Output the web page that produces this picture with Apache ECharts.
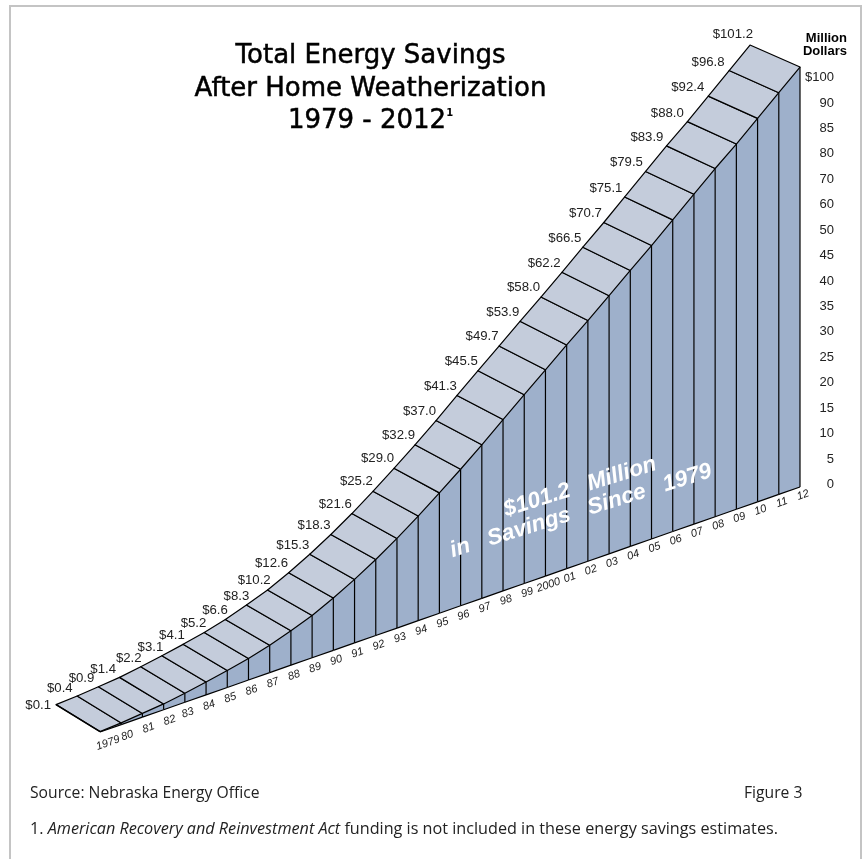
<!DOCTYPE html>
<html><head><meta charset="utf-8">
<style>html,body{margin:0;padding:0;background:#fff;overflow:hidden}#c{width:864px;height:859px}</style>
<script src="https://cdn.jsdelivr.net/npm/echarts@6/dist/echarts.min.js"></script>
</head><body><div id="c"></div>
<script>
const years = ['1979','80','81','82','83','84','85','86','87','88','89','90','91','92','93','94','95','96','97','98','99','2000','01','02','03','04','05','06','07','08','09','10','11','12'];
const savings = [0.1,0.4,0.9,1.4,2.2,3.1,4.1,5.2,6.6,8.3,10.2,12.6,15.3,18.3,21.6,25.2,29.0,32.9,37.0,41.3,45.5,49.7,53.9,58.0,62.2,66.5,70.7,75.1,79.5,83.9,88.0,92.4,96.8,101.2];
const scaleLabels = ['0','5','10','15','20','25','30','35','40','45','50','60','70','80','85','90','$100'];

const SHEAR = 0.35, ROT = Math.atan(SHEAR);
const chart = echarts.init(document.getElementById('c'), null, {renderer:'canvas'});
const last = savings.length - 1;

function project(api, i, v){
  const p = api.coord([i, v]), o = api.coord([0, 0]);
  return [p[0], p[1] - SHEAR * (p[0] - o[0])];
}
function back(api, i, v){
  const p = project(api, i, v), t = i / last;
  return [p[0] - (44 + 6 * t * t), p[1] - (27 - 5 * t)];
}
const renderStep = (params, api) => {
  const i = params.dataIndex, v = api.value(1), kids = [], t = i / last;
  const frontTop = project(api, i, v), frontBase = project(api, i, 0), backTop = back(api, i, v);
  if (i < last) {
    const nv = savings[i + 1];
    const nTop = project(api, i + 1, nv), nBase = project(api, i + 1, 0), nBack = back(api, i + 1, nv);
    kids.push({type:'polygon', shape:{points:[frontBase, frontTop, nTop, nBase]}, style:{fill:'#9eb0cb', stroke:null}});
    kids.push({type:'polygon', shape:{points:[backTop, nBack, nTop, frontTop]}, style:{fill:'#c4ccdb', stroke:'#000', lineWidth:1.2, lineJoin:'round'}});
    kids.push({type:'line', shape:{x1:frontBase[0], y1:frontBase[1], x2:nBase[0], y2:nBase[1]}, style:{stroke:'#000', lineWidth:1.2}});
  }
  kids.push({type:'line', shape:{x1:frontBase[0], y1:frontBase[1], x2:frontTop[0], y2:frontTop[1]}, style:{stroke:'#000', lineWidth:1.2}});
  if (i === 0) kids.push({type:'line', shape:{x1:backTop[0], y1:backTop[1], x2:frontTop[0], y2:frontTop[1]}, style:{stroke:'#000', lineWidth:1.6}});
  const dx = i === last ? 3 : -5 + 5 * Math.sin(Math.PI * t) + (i >= 4 && i <= 10 ? 4 : 0);
  const dy = i === 0 ? 1 : (i === last ? -11 : -8 - 1.5 * Math.sin(Math.PI * t));
  kids.push({type:'text', x:backTop[0] + dx, y:backTop[1] + dy, style:{
    text:'$' + v.toFixed(1), fill:'#222', font:'13.2px "Liberation Sans", Arial, sans-serif', align:'right', verticalAlign:'middle'}});
  const ox = i === 0 ? 8 : (i < 4 ? 6 : 3);
  kids.push({type:'text', x:frontBase[0] + ox, y:frontBase[1] + 11 - 3 * t, rotation:ROT, style:{
    text:years[i], fill:'#222', font:'italic 11px "Liberation Sans", Arial, sans-serif', align:'center', verticalAlign:'middle'}});
  return {type:'group', children:kids};
};

const headFont = {fontFamily:'"DejaVu Sans"', fontSize:26, fontWeight:'normal', color:'#000', textBorderColor:'#000', textBorderWidth:0.5};
const footFont = {fontFamily:'"Open Sans"', fontSize:15.7, fontWeight:'normal', color:'#222'};
const noteFont = Object.assign({}, footFont, {fontSize:16.2});
chart.setOption({
  animation:false,
  backgroundColor:'#fff',
  title:[
    {text:'Total Energy Savings', left:370.5, top:43, padding:0, textAlign:'center', textStyle:headFont},
    {text:'After Home Weatherization', left:370.5, top:76, padding:0, textAlign:'center', textStyle:headFont},
    {text:'{a|1979 - 2012}{s|1}', left:370.5, top:108, padding:0, textAlign:'center', textStyle:{rich:{a:headFont, s:{fontFamily:'"DejaVu Sans"', fontSize:10, color:'#000', verticalAlign:'top', padding:[0,0,10,0]}}}},
    {text:'Source: Nebraska Energy Office', left:30, top:786, padding:0, textStyle:footFont},
    {text:'Figure 3', left:744, top:786, padding:0, textStyle:footFont},
    {text:'{n|1. }{i|American Recovery and Reinvestment Act}{n| funding is not included in these energy savings estimates.}', left:30, top:821, padding:0, textStyle:{fontWeight:'normal', rich:{n:noteFont, i:Object.assign({}, noteFont, {fontStyle:'italic'})}}},
    {text:'Million\nDollars', left:847, top:32, padding:0, textAlign:'right', textStyle:{fontFamily:'"Liberation Sans"', fontSize:13, fontWeight:'bold', lineHeight:13, color:'#000'}}
  ],
  grid:[
    {left:100, width:700, top:275.5, height:456.5},
    {left:838, width:10, top:77.5, height:407}
  ],
  xAxis:[
    {type:'category', gridIndex:0, data:years, boundaryGap:false, show:false},
    {type:'value', gridIndex:1, show:false}
  ],
  yAxis:[
    {type:'value', gridIndex:0, min:0, max:110, show:false},
    {type:'category', gridIndex:1, data:scaleLabels, boundaryGap:false, position:'left',
     axisLine:{show:false}, axisTick:{show:false}, splitLine:{show:false},
     axisLabel:{show:true, interval:0, margin:4, fontFamily:'"Liberation Sans"', fontSize:13, color:'#222', align:'right'}}
  ],
  series:[{
    type:'custom', xAxisIndex:0, yAxisIndex:0, coordinateSystem:'cartesian2d',
    data:savings.map((v,i)=>[i,v]), encode:{x:0,y:1}, clip:false, silent:true,
    renderItem:renderStep
  }],
  graphic:[
    {type:'rect', z:-1, shape:{x:10, y:6, width:851, height:880}, style:{fill:'none', stroke:'#c4c4c4', lineWidth:2}},
    {type:'text', x:580, y:487, rotation:0.30, z:100, style:{text:'$101.2   Million', fill:'#fff', font:'italic bold 22.5px "Liberation Sans"', align:'center', verticalAlign:'middle'}},
    {type:'text', x:581, y:511, rotation:0.30, z:100, style:{text:'in   Savings   Since   1979', fill:'#fff', font:'italic bold 22.5px "Liberation Sans"', align:'center', verticalAlign:'middle'}}
  ]
});
</script></body></html>
